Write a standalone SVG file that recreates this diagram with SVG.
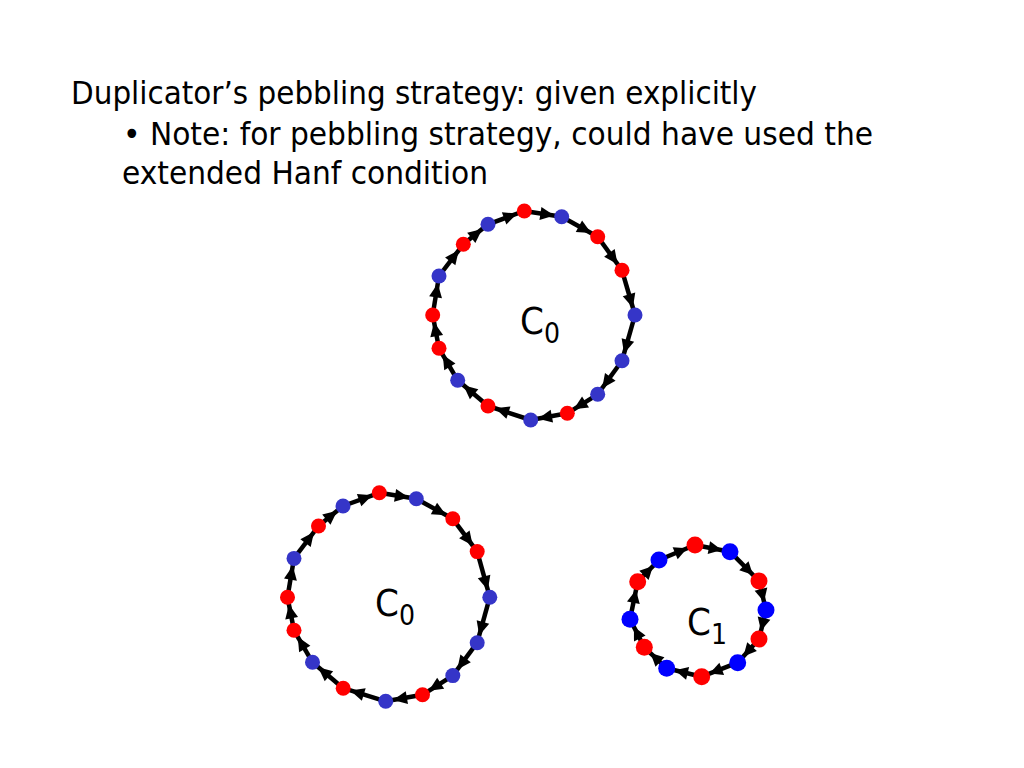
<svg xmlns="http://www.w3.org/2000/svg" width="1024" height="768" viewBox="0 0 1024 768">
<style>
text{font-family:"DejaVu Sans Condensed","DejaVu Sans",sans-serif;font-stretch:condensed;fill:#000}
.t{font-size:32px}
.lab{font-size:38px}
.sub{font-size:28px}
.r{fill:#FF0000}
.b{fill:#3535C8}
.bb{fill:#0000FF}
.e{stroke:#000;stroke-width:4.5;fill:none}
.s{marker-end:url(#ah7)}
.m{marker-end:url(#ah8)}
</style>
<defs>
<marker id="ah7" markerUnits="userSpaceOnUse" orient="auto" overflow="visible" refX="0" refY="0" markerWidth="1" markerHeight="1"><path d="M-21.5,-6.5 L-7.5,0 L-21.5,6.5 z" fill="#000"/></marker>
<marker id="ah8" markerUnits="userSpaceOnUse" orient="auto" overflow="visible" refX="0" refY="0" markerWidth="1" markerHeight="1"><path d="M-21.5,-6.5 L-8.5,0 L-21.5,6.5 z" fill="#000"/></marker>
</defs>
<rect width="1024" height="768" fill="#fff"/>
<g id="title">
<text class="t" x="71" y="104" textLength="686" lengthAdjust="spacingAndGlyphs">Duplicator’s pebbling strategy: given explicitly</text>
<text class="t" x="123" y="145" textLength="750" lengthAdjust="spacingAndGlyphs">• Note: for pebbling strategy, could have used the</text>
<text class="t" x="122" y="184" textLength="366" lengthAdjust="spacingAndGlyphs">extended Hanf condition</text>
</g>
<g id="connectors">
<g class="e s">
<line x1="524.3" y1="211" x2="561.7" y2="216.7"/>
<line x1="561.7" y1="216.7" x2="597.7" y2="236.7"/>
<line x1="597.7" y1="236.7" x2="622" y2="270.3"/>
<line x1="622" y1="270.3" x2="635" y2="315"/>
<line x1="635" y1="315" x2="622" y2="360.7"/>
<line x1="622" y1="360.7" x2="597.7" y2="394.3"/>
<line x1="597.7" y1="394.3" x2="567.3" y2="413.3"/>
<line x1="567.3" y1="413.3" x2="530.7" y2="420"/>
<line x1="530.7" y1="420" x2="488" y2="406"/>
<line x1="488" y1="406" x2="457.7" y2="380.3"/>
<line x1="457.7" y1="380.3" x2="439" y2="348.3"/>
<line x1="439" y1="348.3" x2="432.7" y2="315"/>
<line x1="432.7" y1="315" x2="439" y2="276"/>
<line x1="439" y1="276" x2="463.3" y2="244.3"/>
<line x1="463.3" y1="244.3" x2="488" y2="224.3"/>
<line x1="488" y1="224.3" x2="524.3" y2="211"/>

<line x1="379.3" y1="492.8" x2="416.3" y2="498.8"/>
<line x1="416.3" y1="498.8" x2="452.8" y2="518.8"/>
<line x1="452.8" y1="518.8" x2="477.2" y2="551.6"/>
<line x1="477.2" y1="551.6" x2="489.8" y2="597.2"/>
<line x1="489.8" y1="597.2" x2="477.2" y2="642.7"/>
<line x1="477.2" y1="642.7" x2="452.8" y2="675.6"/>
<line x1="452.8" y1="675.6" x2="422.5" y2="694.8"/>
<line x1="422.5" y1="694.8" x2="385.7" y2="701.3"/>
<line x1="385.7" y1="701.3" x2="343.2" y2="688.2"/>
<line x1="343.2" y1="688.2" x2="312.5" y2="662.3"/>
<line x1="312.5" y1="662.3" x2="294" y2="630.3"/>
<line x1="294" y1="630.3" x2="287.5" y2="597.2"/>
<line x1="287.5" y1="597.2" x2="294" y2="558.4"/>
<line x1="294" y1="558.4" x2="318.5" y2="526"/>
<line x1="318.5" y1="526" x2="343" y2="506"/>
<line x1="343" y1="506" x2="379.3" y2="492.8"/>
</g>
<g class="e m">
<line x1="695" y1="545" x2="730" y2="551.7"/>
<line x1="730" y1="551.7" x2="759" y2="581"/>
<line x1="759" y1="581" x2="766" y2="610"/>
<line x1="766" y1="610" x2="759" y2="639"/>
<line x1="759" y1="639" x2="737.7" y2="662.7"/>
<line x1="737.7" y1="662.7" x2="701.7" y2="676.7"/>
<line x1="701.7" y1="676.7" x2="666.7" y2="668.3"/>
<line x1="666.7" y1="668.3" x2="644.3" y2="647.3"/>
<line x1="644.3" y1="647.3" x2="630" y2="619.3"/>
<line x1="630" y1="619.3" x2="637.7" y2="581.7"/>
<line x1="637.7" y1="581.7" x2="659" y2="560"/>
<line x1="659" y1="560" x2="695" y2="545"/>
</g>
</g>
<g id="top-cycle">
<g id="t1"><circle class="r" cx="524.3" cy="211" r="7.5"/></g>
<g id="t2"><circle class="b" cx="561.7" cy="216.7" r="7.5"/></g>
<g id="t3"><circle class="r" cx="597.7" cy="236.7" r="7.5"/></g>
<g id="t4"><circle class="r" cx="622" cy="270.3" r="7.5"/></g>
<g id="t5"><circle class="b" cx="635" cy="315" r="7.5"/></g>
<g id="t6"><circle class="b" cx="622" cy="360.7" r="7.5"/></g>
<g id="t7"><circle class="b" cx="597.7" cy="394.3" r="7.5"/></g>
<g id="t8"><circle class="r" cx="567.3" cy="413.3" r="7.5"/></g>
<g id="t9"><circle class="b" cx="530.7" cy="420" r="7.5"/></g>
<g id="t10"><circle class="r" cx="488" cy="406" r="7.5"/></g>
<g id="t11"><circle class="b" cx="457.7" cy="380.3" r="7.5"/></g>
<g id="t12"><circle class="r" cx="439" cy="348.3" r="7.5"/></g>
<g id="t13"><circle class="r" cx="432.7" cy="315" r="7.5"/></g>
<g id="t14"><circle class="b" cx="439" cy="276" r="7.5"/></g>
<g id="t15"><circle class="r" cx="463.3" cy="244.3" r="7.5"/></g>
<g id="t16"><circle class="b" cx="488" cy="224.3" r="7.5"/></g>
<g id="label-top"><text class="lab" x="520" y="334">C<tspan class="sub" dy="9">0</tspan></text></g>
</g>
<g id="left-cycle">
<g id="l1"><circle class="r" cx="379.3" cy="492.8" r="7.5"/></g>
<g id="l2"><circle class="b" cx="416.3" cy="498.8" r="7.5"/></g>
<g id="l3"><circle class="r" cx="452.8" cy="518.8" r="7.5"/></g>
<g id="l4"><circle class="r" cx="477.2" cy="551.6" r="7.5"/></g>
<g id="l5"><circle class="b" cx="489.8" cy="597.2" r="7.5"/></g>
<g id="l6"><circle class="b" cx="477.2" cy="642.7" r="7.5"/></g>
<g id="l7"><circle class="b" cx="452.8" cy="675.6" r="7.5"/></g>
<g id="l8"><circle class="r" cx="422.5" cy="694.8" r="7.5"/></g>
<g id="l9"><circle class="b" cx="385.7" cy="701.3" r="7.5"/></g>
<g id="l10"><circle class="r" cx="343.2" cy="688.2" r="7.5"/></g>
<g id="l11"><circle class="b" cx="312.5" cy="662.3" r="7.5"/></g>
<g id="l12"><circle class="r" cx="294" cy="630.3" r="7.5"/></g>
<g id="l13"><circle class="r" cx="287.5" cy="597.2" r="7.5"/></g>
<g id="l14"><circle class="b" cx="294" cy="558.4" r="7.5"/></g>
<g id="l15"><circle class="r" cx="318.5" cy="526" r="7.5"/></g>
<g id="l16"><circle class="b" cx="343" cy="506" r="7.5"/></g>
<g id="label-left"><text class="lab" x="375" y="616">C<tspan class="sub" dy="9">0</tspan></text></g>
</g>
<g id="right-cycle">
<g id="r1"><circle class="r" cx="695" cy="545" r="8.5"/></g>
<g id="r2"><circle class="bb" cx="730" cy="551.7" r="8.5"/></g>
<g id="r3"><circle class="r" cx="759" cy="581" r="8.5"/></g>
<g id="r4"><circle class="bb" cx="766" cy="610" r="8.5"/></g>
<g id="r5"><circle class="r" cx="759" cy="639" r="8.5"/></g>
<g id="r6"><circle class="bb" cx="737.7" cy="662.7" r="8.5"/></g>
<g id="r7"><circle class="r" cx="701.7" cy="676.7" r="8.5"/></g>
<g id="r8"><circle class="bb" cx="666.7" cy="668.3" r="8.5"/></g>
<g id="r9"><circle class="r" cx="644.3" cy="647.3" r="8.5"/></g>
<g id="r10"><circle class="bb" cx="630" cy="619.3" r="8.5"/></g>
<g id="r11"><circle class="r" cx="637.7" cy="581.7" r="8.5"/></g>
<g id="r12"><circle class="bb" cx="659" cy="560" r="8.5"/></g>
<g id="label-right"><text class="lab" x="687" y="635">C<tspan class="sub" dy="9">1</tspan></text></g>
</g>
</svg>
